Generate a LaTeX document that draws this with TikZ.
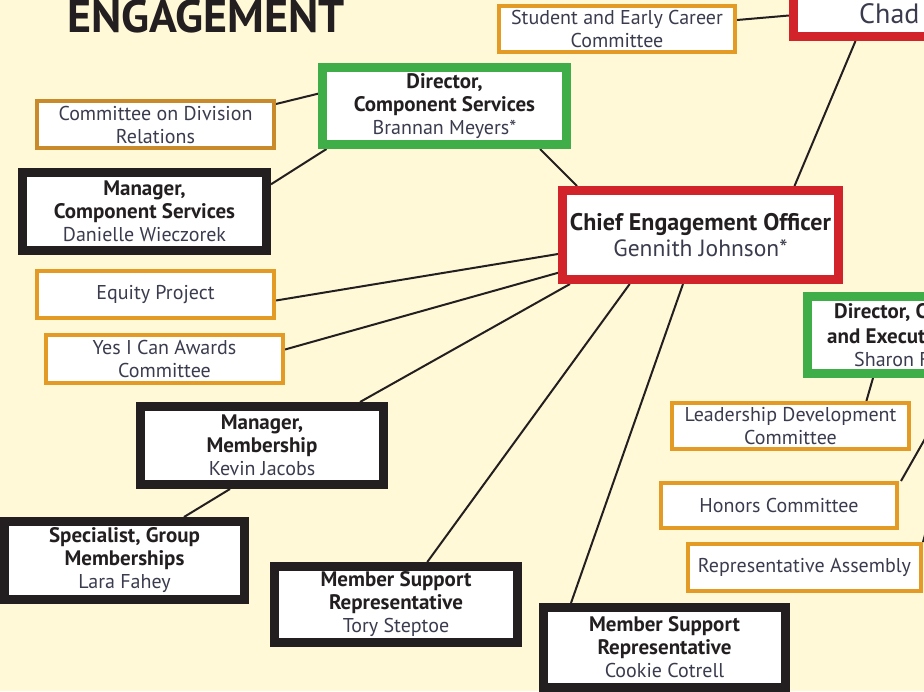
\documentclass[tikz,border=0pt]{standalone}
\usepackage{fontspec}
\setmainfont{PT Sans}
\usetikzlibrary{calc}
\definecolor{bg}{HTML}{FFF9D7}
\definecolor{cred}{HTML}{D2232A}
\definecolor{cgreen}{HTML}{3FAE49}
\definecolor{cblack}{HTML}{231F20}
\definecolor{corange}{HTML}{E39B26}
\definecolor{cbrown}{HTML}{C98A2B}
\definecolor{ctext}{HTML}{3A3C4E}
\pgfdeclarelayer{bgl}
\pgfsetlayers{bgl,main}
\newcommand{\bt}[1]{\textcolor{cblack}{\fontsize{21}{23}\selectfont\textbf{#1}}}
\begin{document}
\begin{tikzpicture}[x=1pt,y=-1pt,
  box/.style={draw, fill=white, inner sep=0pt, align=center, text=ctext, font=\fontsize{20}{23}\selectfont},
  bigbox/.style={box, line width=9pt},
  smallbox/.style={box, line width=4pt, draw=corange},
  conn/.style={draw=cblack, line width=2pt},
  plain/.style={inner sep=0pt, text=ctext}]
\useasboundingbox (0,0) rectangle (924,691);
\clip (0,0) rectangle (924,691);
\begin{pgfonlayer}{bgl}
\fill[bg] (0,0) rectangle (924,691);
\end{pgfonlayer}
% title
\node[plain, anchor=base west, text=cblack, font=\fontsize{46}{46}\selectfont\bfseries] (title) at (67,32) {ENGAGEMENT};
% boxes
\node[smallbox, minimum width=236, minimum height=46] (stud) at (617,29) {Student and Early Career\\Committee};
\node[bigbox, draw=cred, minimum width=202, minimum height=72] (chad) at (894.5,0.5) {};
\node[plain, anchor=west, font=\fontsize{28}{28}\selectfont] (chadtxt) at (859,14) {Chad};
\node[bigbox, draw=cgreen, minimum width=244, minimum height=77] (dircs) at (444.5,106) {\bt{Director,}\\\bt{Component Services}\\Brannan Meyers*};
\node[smallbox, draw=cbrown, minimum width=237, minimum height=47] (cdr) at (155.5,124.5) {Committee on Division\\Relations};
\node[bigbox, draw=cblack, minimum width=244, minimum height=78] (mcs) at (144.5,211.5) {\bt{Manager,}\\\bt{Component Services}\\Danielle Wieczorek};
\node[bigbox, draw=cred, minimum width=276, minimum height=89, font=\fontsize{23.5}{26}\selectfont] (chief) at (700.5,235) {\textcolor{cblack}{\fontsize{24}{26}\selectfont\textbf{Chief Engagement Officer}}\\Gennith Johnson*};
\node[smallbox, minimum width=237, minimum height=47] (equity) at (155.5,294.5) {Equity Project};
\node[smallbox, minimum width=237, minimum height=48] (yes) at (164.5,359) {Yes I Can Awards\\Committee};
\node[bigbox, draw=cblack, minimum width=243, minimum height=78] (mm) at (262,445.5) {\bt{Manager,}\\\bt{Membership}\\Kevin Jacobs};
\node[bigbox, draw=cblack, minimum width=240, minimum height=78] (spec) at (124.5,560.5) {\bt{Specialist, Group}\\\bt{Memberships}\\Lara Fahey};
\node[bigbox, draw=cblack, minimum width=243, minimum height=76] (tory) at (396,604.5) {\bt{Member Support}\\\bt{Representative}\\Tory Steptoe};
\node[bigbox, draw=cblack, minimum width=242, minimum height=80] (cookie) at (664.5,647.5) {\bt{Member Support}\\\bt{Representative}\\Cookie Cotrell};
\node[bigbox, draw=cgreen, minimum width=188, minimum height=77] (dirce) at (901.5,335) {};
\node[plain, anchor=west] (sh1) at (834,313) {\bt{Director, C}};
\node[plain, anchor=west] (sh2) at (827,336) {\bt{and Execut}};
\node[plain, anchor=west, font=\fontsize{20}{23}\selectfont] (sh3) at (854,359) {Sharon F};
\node[smallbox, minimum width=237, minimum height=46] (lead) at (790.5,426) {Leadership Development\\Committee};
\node[smallbox, minimum width=236, minimum height=45] (hon) at (779,505.5) {Honors Committee};
\node[smallbox, minimum width=233, minimum height=47] (rep) at (804.5,567.5) {Representative Assembly};
\coordinate (offA) at (930,430);
\coordinate (offB) at (925.5,533);
% connectors
\begin{pgfonlayer}{bgl}
\draw[conn] ($(stud.east)+(0,-9)$) -- ($(chad.south west)+(0,-25.5)$);
\draw[conn] ($(chad.south west)+(66.5,0)$) -- ($(chief.north west)+(236.5,0)$);
\draw[conn] ($(dircs.south west)+(222,0)$) -- ($(chief.north west)+(19,0)$);
\draw[conn] ($(cdr.north east)+(0,5)$) -- ($(dircs.north west)+(0,30.7)$);
\draw[conn] ($(mcs.north east)+(0,16.3)$) -- ($(dircs.south west)+(8.5,0)$);
\draw[conn] ($(equity.north east)+(0,31.5)$) -- ($(chief.west)+(0,19)$);
\draw[conn] ($(yes.east)+(0,-9.5)$) -- ($(chief.west)+(0,37.8)$);
\draw[conn] ($(mm.north west)+(224,0)$) -- ($(chief.south west)+(12,0)$);
\draw[conn] ($(mm.south west)+(94,0)$) -- ($(spec.north west)+(184,0)$);
\draw[conn] ($(tory.north west)+(157.3,0)$) -- ($(chief.south west)+(71.7,0)$);
\draw[conn] ($(cookie.north west)+(32,0)$) -- ($(chief.south west)+(125,0)$);
\draw[conn] ($(dirce.south west)+(70,0)$) -- ($(lead.north west)+(196.4,0)$);
\draw[conn] (offA) -- ($(hon.north east)+(2,0)$);
\draw[conn] (offB) -- ($(rep.north east)+(0,0)$);
\end{pgfonlayer}
\end{tikzpicture}
\end{document}
